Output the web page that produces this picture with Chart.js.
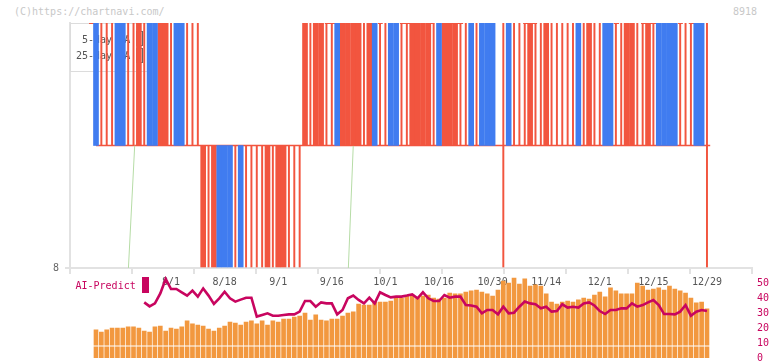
<!DOCTYPE html>
<html>
<head>
<meta charset="utf-8">
<script src="https://cdn.jsdelivr.net/npm/chart.js@4.4.1/dist/chart.umd.min.js"></script>
<style>
html, body { margin: 0; padding: 0; background: #fff; overflow: hidden; width: 772px; height: 361px; }
#wrap { position: relative; width: 772px; height: 361px; }
#priceChart { position: absolute; left: 0; top: 0; }
#predictChart { position: absolute; left: 0; top: 270px; }
.mark { position: absolute; font: 10px "DejaVu Sans Mono", monospace; color: #c8c8c8; }
</style>
</head>
<body>
<div id="wrap">
  <div class="mark" style="left:14px;top:6px">(C)https://chartnavi.com/</div>
  <div class="mark" style="left:733px;top:6px">8918</div>
  <canvas id="priceChart" width="772" height="280"></canvas>
  <canvas id="predictChart" width="772" height="100"></canvas>
</div>
<script>
// candle type per trading day: B = falling (blue), R = rising (red), T = thin red
const candleKind = [
  'B','T','T','T','B','B','T','T','R','T',
  'B','B','R','R','T','B','B','T','T','T',
  'R','T','R','B','B','B','T','B','T','T',
  'T','T','R','T','R','R','T','T','T','R',
  'T','R','R','T','T','B','R','R','R','R',
  'T','R','B','T','T','B','B','T','T','R',
  'R','R','R','T','B','R','R','R','T','T',
  'B','T','B','B','B', null,'T','B','T','T',
  'T','R','T','T','R','T','T','T','T','T',
  'B','T','R','T','T','B','B','T','T','R',
  'R','T','T','R','T','B','B','B','B','T',
  'T','T','B','B','T'
];
// 1 = above the mid line, -1 = below it, 0 = across both
const candleSide = [
   1, 1, 1, 1, 1, 1, 1, 1, 1, 1,
   1, 1, 1, 1, 1, 1, 1, 1, 1, 1,
  -1,-1,-1,-1,-1,-1,-1,-1,-1,-1,
  -1,-1,-1,-1,-1,-1,-1,-1,-1, 1,
   1, 1, 1, 1, 1, 1, 1, 1, 1, 1,
   1, 1, 1, 1, 1, 1, 1, 1, 1, 1,
   1, 1, 1, 1, 1, 1, 1, 1, 1, 1,
   1, 1, 1, 1, 1, 1, 0, 1, 1, 1,
   1, 1, 1, 1, 1, 1, 1, 1, 1, 1,
   1, 1, 1, 1, 1, 1, 1, 1, 1, 1,
   1, 1, 1, 1, 1, 1, 1, 1, 1, 1,
   1, 1, 1, 1, 0
];
// short red caps along the top edge (day index ranges)
const capStart = [-1.3, 42.7, 52.6, 56.7, 62.5, 65.5, 79.7, 96.6, 101.7, 108.6, 110.6];
const capEnd   = [-0.4, 44.6, 53.5, 58.6, 63.1, 68.5, 82.3, 97.6, 104.5, 109.5, 111.6];
// moving average crossings (day index, level)
const maLineX = [6.03, 7.22, 7.3, 47.07, 48.0];
const maLineY = [-0.02, 1, null, -0.02, 1];

const volumeValues = [
  18.7, 17.3, 18.7, 20, 20, 20, 20.7, 20.7, 20, 18,
  17.3, 20.7, 21.3, 18, 20, 19.3, 20.7, 24.7, 22.7, 22,
  21.3, 19.3, 18, 20, 21.3, 24, 23.3, 22, 24, 24.7,
  22.7, 24.7, 22, 24.7, 24, 26, 26, 27.3, 28, 30,
  25.3, 28.7, 25.3, 24.7, 26, 26, 28, 30, 30.7, 36,
  35.3, 35.3, 37.3, 37.3, 37.3, 38, 40, 40, 41.3, 42,
  40, 41.3, 42, 40, 39.3, 40, 43.3, 42.7, 42.7, 44,
  44.7, 45.3, 44, 42.7, 41.3, 45.3, 51.3, 50, 53.3, 49.3,
  52.7, 48, 48.7, 48, 42.7, 37.3, 36, 37.3, 38, 37.3,
  38.7, 40, 39.3, 42, 44, 40.7, 46.7, 44.7, 42.7, 42.7,
  42.7, 50, 48, 45.3, 46, 46.7, 45.3, 48, 46, 44.7,
  43.3, 40, 36.7, 37.3, 32.7
];
const predictValues = [
  null, null, null, null, null, null, null, null, null, 37.1,
  34.4, 36.4, 43.1, 52.7, 46, 46, 43.8, 41.6, 44.9, 40.9,
  46.4, 41.6, 36, 39.8, 44.2, 39.8, 37.6, 38.9, 40.2, 40.2,
  27.6, 28.7, 29.8, 28.2, 28.2, 28.7, 29.1, 29.1, 30.9, 38,
  38, 34.2, 37.1, 36.4, 36.4, 29.1, 32, 39.8, 41.6, 38.7,
  36.4, 40.2, 36.4, 43.8, 42, 40.4, 40.9, 40.9, 41.6, 42.4,
  39.8, 43.8, 39.8, 38, 38, 42, 40.2, 40.9, 40.9, 35.3,
  35, 34.2, 29.8, 32, 32, 29.1, 34.2, 29.8, 30.2, 34.2,
  37.6, 36.4, 35.8, 33.1, 34.2, 30.9, 31.3, 35.8, 33.6, 34.2,
  33.6, 36.4, 37.1, 35, 31.3, 29.3, 32, 32, 33.1, 33.1,
  36.4, 34.2, 35.3, 37.1, 38.7, 35.3, 29.3, 29.3, 29.1, 30.9,
  35.3, 28.2, 30.9, 32, 31.3
];
const dateTickIndex = [14, 24, 34, 44, 54, 64, 74, 84, 94, 104, 114];
const dateTickLabels = ['8/1', '8/18', '9/1', '9/16', '10/1', '10/16', '10/30', '11/14', '12/1', '12/15', '12/29'];
const predictTicks = [0, 10, 20, 30, 40, 50];

const X_MIN = -4.85, X_MAX = 122.4;
const MONO = '"DejaVu Sans Mono", monospace';
const RED = '#f2553f', BLUE = '#407cf0', ORANGE = '#f2983f', MAGENTA = '#c8055f';

function candleData(kind) {
  const out = [];
  candleKind.forEach((k, i) => {
    if (k !== kind) return;
    const s = candleSide[i];
    out.push({ x: i, y: s > 0 ? [1, 2] : s < 0 ? [0, 1] : [0, 2] });
  });
  return out;
}

const capPoints = [];
capStart.forEach((s, i) => {
  capPoints.push({ x: s, y: 2 }, { x: capEnd[i], y: 2 }, { x: capEnd[i] + 0.01, y: null });
});

const legendBox = {
  id: 'legendBox',
  beforeDatasetsDraw(chart) {
    const ctx = chart.ctx;
    ctx.save();
    ctx.strokeStyle = '#dcdcdc';
    ctx.lineWidth = 1;
    ctx.strokeRect(70.5, 23.5, 78, 48);
    ctx.font = '10px ' + MONO;
    ctx.fillStyle = '#555';
    ctx.textBaseline = 'middle';
    ctx.fillText(' 5-day MA', 76, 40);
    ctx.fillText('25-day MA', 76, 56);
    ctx.strokeStyle = '#666';
    ctx.strokeRect(136.5, 31.5, 6, 14);
    ctx.strokeRect(136.5, 48.5, 6, 14);
    ctx.restore();
  }
};

new Chart(document.getElementById('priceChart'), {
  type: 'bar',
  data: {
    datasets: [
      { data: candleData('B'), backgroundColor: BLUE, barThickness: 5, grouped: false, order: 2 },
      { data: candleData('R'), backgroundColor: RED, barThickness: 5, grouped: false, order: 2 },
      { data: candleData('T'), backgroundColor: RED, barThickness: 1.3, grouped: false, order: 2 },
      {
        type: 'line', order: 5,
        data: [{ x: 0, y: 1 }, { x: 114.6, y: 1 }],
        borderColor: RED, borderWidth: 1.5, pointRadius: 0
      },
      {
        type: 'line', order: 3,
        data: capPoints,
        borderColor: RED, borderWidth: 2, pointRadius: 0, spanGaps: false
      },
      {
        type: 'line', order: 4,
        data: maLineX.map((x, i) => ({ x, y: maLineY[i] })),
        borderColor: '#b6dca6', borderWidth: 1, pointRadius: 0, spanGaps: false
      }
    ]
  },
  options: {
    responsive: false,
    animation: false,
    devicePixelRatio: 1,
    layout: { padding: { top: 23, right: 20, left: 0, bottom: 0 } },
    plugins: { legend: { display: false }, tooltip: { enabled: false } },
    scales: {
      x: {
        type: 'linear', min: X_MIN, max: X_MAX, offset: false,
        afterBuildTicks: s => {
          const t = [];
          for (let k = 0; k <= 11; k++) t.push({ value: X_MIN + k * (X_MAX - X_MIN) / 11 });
          s.ticks = t;
        },
        ticks: { display: false },
        grid: { drawOnChartArea: false, offset: false, color: '#e2e2e2', lineWidth: 2, tickLength: 6 },
        border: { color: '#e2e2e2', width: 2 },
        afterFit: s => { s.height = 12; }
      },
      y: {
        min: 0, max: 2,
        afterBuildTicks: s => { s.ticks = [{ value: 0 }]; },
        ticks: { callback: () => '8', color: '#666', font: { family: MONO, size: 10 }, padding: 6 },
        grid: { drawOnChartArea: false, color: '#e2e2e2', lineWidth: 2, tickLength: 5 },
        border: { color: '#e2e2e2', width: 2 },
        afterFit: s => { s.width = 70; }
      }
    }
  },
  plugins: [legendBox]
});

const predictDecor = {
  id: 'predictDecor',
  beforeDatasetsDraw(chart) {
    const ctx = chart.ctx;
    const xs = chart.scales.x;
    ctx.save();
    ctx.font = '10px ' + MONO;
    ctx.textBaseline = 'middle';
    ctx.textAlign = 'center';
    ctx.fillStyle = '#555';
    dateTickIndex.forEach((v, i) => {
      ctx.fillText(dateTickLabels[i], xs.getPixelForValue(v), 12);
    });
    ctx.textAlign = 'left';
    ctx.fillStyle = MAGENTA;
    ctx.fillText('AI-Predict', 75.5, 16);
    ctx.fillRect(142, 7, 7, 16);
    ctx.restore();
  },
  afterDatasetDraw(chart, args) {
    if (args.index !== 0) return;
    const ctx = chart.ctx;
    const y = chart.scales.y.getPixelForValue(8);
    ctx.save();
    ctx.strokeStyle = '#fff';
    ctx.lineWidth = 1.2;
    ctx.beginPath();
    ctx.moveTo(chart.chartArea.left, y);
    ctx.lineTo(chart.chartArea.right, y);
    ctx.stroke();
    ctx.restore();
  }
};

new Chart(document.getElementById('predictChart'), {
  type: 'bar',
  data: {
    datasets: [
      {
        data: volumeValues.map((v, i) => ({ x: i, y: v })),
        backgroundColor: ORANGE, barThickness: 4, grouped: false, order: 2
      },
      {
        type: 'line', order: 1,
        data: predictValues.map((v, i) => ({ x: i, y: v })),
        borderColor: MAGENTA, borderWidth: 2.6, pointRadius: 0, tension: 0
      }
    ]
  },
  options: {
    responsive: false,
    animation: false,
    devicePixelRatio: 1,
    layout: { padding: { left: 70, top: 5.5, bottom: 12, right: 0 } },
    plugins: { legend: { display: false }, tooltip: { enabled: false } },
    scales: {
      x: { type: 'linear', min: X_MIN, max: X_MAX, offset: false, display: false },
      y: {
        position: 'right', min: 0, max: 55,
        afterBuildTicks: s => { s.ticks = predictTicks.map(v => ({ value: v })); },
        ticks: { color: MAGENTA, font: { family: MONO, size: 10 }, padding: 5 },
        grid: { display: false, drawTicks: false, tickLength: 0 },
        border: { display: false },
        afterFit: s => { s.width = 20; s.paddingTop = 0; s.paddingBottom = 0; }
      }
    }
  },
  plugins: [predictDecor]
});
</script>
</body>
</html>
